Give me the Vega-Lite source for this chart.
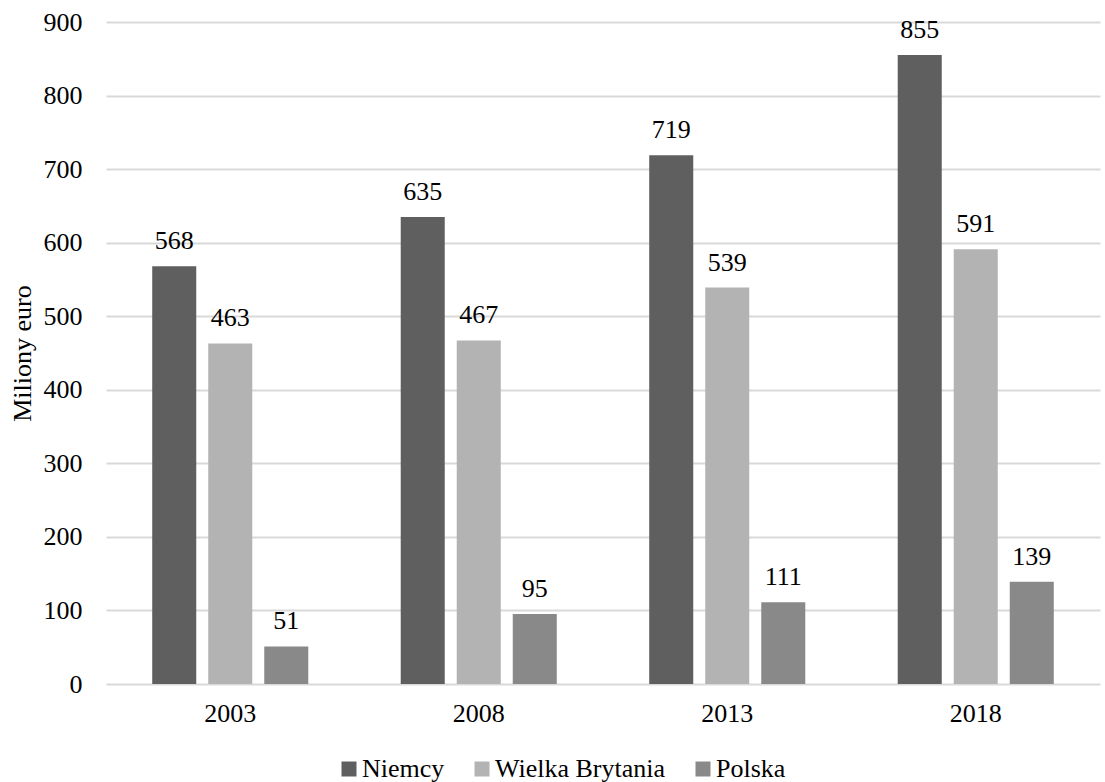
{
  "$schema": "https://vega.github.io/schema/vega-lite/v6.json",
  "width": 994,
  "height": 662,
  "autosize": "none",
  "padding": {"left": 106, "top": 22, "right": 5, "bottom": 98},
  "background": "white",
  "config": {
    "font": "Liberation Serif",
    "view": {"stroke": null},
    "text": {"font": "Liberation Serif"},
    "legend": {"labelFont": "Liberation Serif", "titleFont": "Liberation Serif"},
    "axis": {"labelFont": "Liberation Serif", "titleFont": "Liberation Serif", "labelColor": "#000000", "titleColor": "#000000"}
  },
  "data": {
    "values": [
      {"rok": "2003", "kraj": "Niemcy", "wartosc": 568},
      {"rok": "2003", "kraj": "Wielka Brytania", "wartosc": 463},
      {"rok": "2003", "kraj": "Polska", "wartosc": 51},
      {"rok": "2008", "kraj": "Niemcy", "wartosc": 635},
      {"rok": "2008", "kraj": "Wielka Brytania", "wartosc": 467},
      {"rok": "2008", "kraj": "Polska", "wartosc": 95},
      {"rok": "2013", "kraj": "Niemcy", "wartosc": 719},
      {"rok": "2013", "kraj": "Wielka Brytania", "wartosc": 539},
      {"rok": "2013", "kraj": "Polska", "wartosc": 111},
      {"rok": "2018", "kraj": "Niemcy", "wartosc": 855},
      {"rok": "2018", "kraj": "Wielka Brytania", "wartosc": 591},
      {"rok": "2018", "kraj": "Polska", "wartosc": 139}
    ]
  },
  "encoding": {
    "x": {
      "field": "rok", "type": "nominal",
      "scale": {"paddingInner": 0.372, "paddingOuter": 0.186},
      "axis": {"title": null, "labelAngle": 0, "labelFontSize": 26, "labelPadding": 16, "ticks": false, "domain": false, "grid": false}
    },
    "xOffset": {
      "field": "kraj", "type": "nominal",
      "sort": ["Niemcy", "Wielka Brytania", "Polska"],
      "scale": {"paddingInner": 0.214, "paddingOuter": 0}
    },
    "y": {
      "field": "wartosc", "type": "quantitative",
      "scale": {"domain": [0, 900], "nice": false},
      "axis": {"title": "Miliony euro", "titleFontSize": 26, "titleFontWeight": "normal", "titlePadding": 8, "labelFontSize": 26, "labelPadding": 24, "values": [0,100,200,300,400,500,600,700,800,900], "labelOverlap": false, "ticks": false, "domain": false, "grid": true, "gridColor": "#d9d9d9", "gridWidth": 2}
    }
  },
  "layer": [
    {
      "mark": {"type": "bar"},
      "encoding": {
        "color": {
          "field": "kraj", "type": "nominal",
          "sort": ["Niemcy", "Wielka Brytania", "Polska"],
          "scale": {"domain": ["Niemcy", "Wielka Brytania", "Polska"], "range": ["#5f5f5f", "#b3b3b3", "#898989"]},
          "legend": {"title": null, "orient": "none", "direction": "horizontal", "legendX": 230, "legendY": 734, "padding": 0, "symbolType": "square", "symbolSize": 225, "symbolStrokeWidth": 0, "labelFontSize": 26, "labelFont": "Liberation Serif", "labelColor": "#000000", "labelLimit": 400, "columnPadding": 24, "labelOffset": 0}
        }
      }
    },
    {
      "mark": {"type": "text", "baseline": "alphabetic", "dy": -17, "fontSize": 26, "font": "Liberation Serif", "color": "#000000"},
      "encoding": {"text": {"field": "wartosc", "type": "quantitative"}}
    }
  ]
}
